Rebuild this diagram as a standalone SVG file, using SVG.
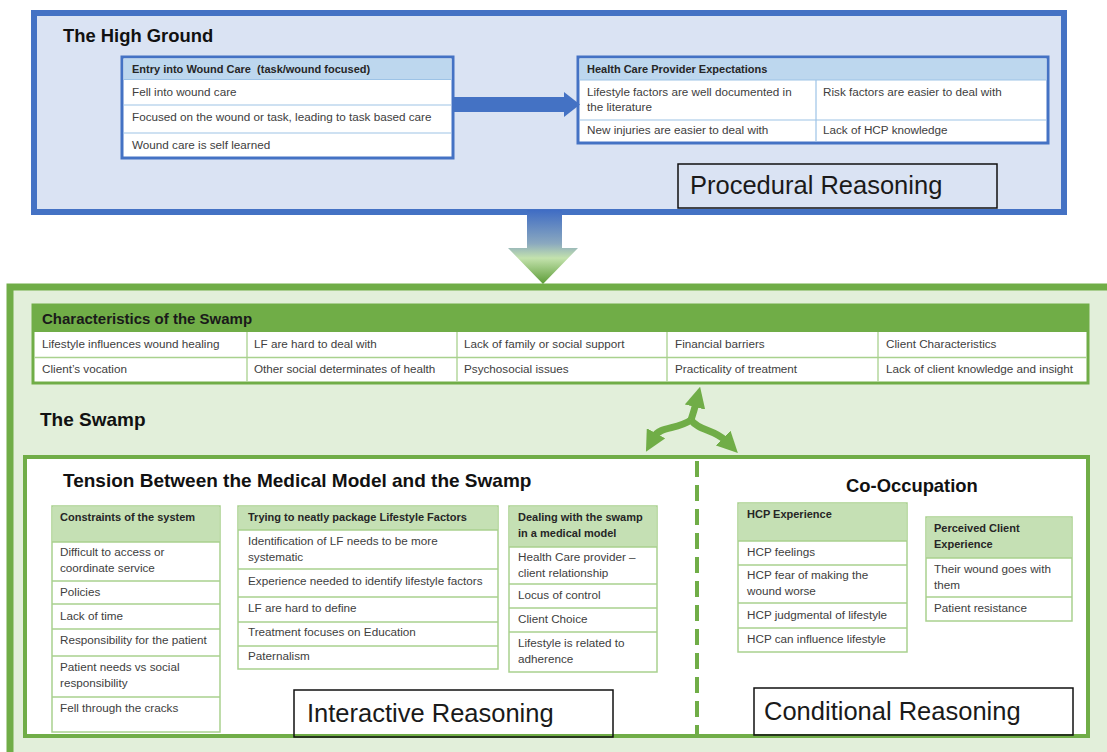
<svg xmlns="http://www.w3.org/2000/svg" width="1107" height="752" viewBox="0 0 1107 752">
<style>
text{font-family:"Liberation Sans",Arial,sans-serif}
.title{font-size:18.4px;font-weight:bold;fill:#111}
.big{font-size:25.5px;fill:#1a1a1a}
.t{font-size:11.7px;fill:#404040}
.h{font-size:11px;font-weight:bold;fill:#262626}
.bluet{stroke:#4472c4;stroke-width:3;fill:#fff}
.bluehdr{fill:#bdd7ee}
.blueln{stroke:#9dc3e6;stroke-width:1.2}
.grnt{stroke:#a9d18e;stroke-width:1.5;fill:#fff}
.grnhdr{fill:#c5e0b4}
.grnln{stroke:#a9d18e;stroke-width:1.3}
.label{fill:none;stroke:#111;stroke-width:1.5}
.conn{fill:none;stroke:#70ad47;stroke-width:7}
</style>
<defs>
<linearGradient id="downGrad" gradientUnits="userSpaceOnUse" x1="0" y1="210" x2="0" y2="284">
<stop offset="0" stop-color="#3f6cc4"/>
<stop offset="0.45" stop-color="#8aa8bf"/>
<stop offset="0.65" stop-color="#c3e2ad"/>
<stop offset="1" stop-color="#5c9c36"/>
</linearGradient>
<marker id="gh" viewBox="0 0 10 10" refX="2" refY="5" markerWidth="3" markerHeight="3" orient="auto" markerUnits="strokeWidth">
<path d="M0,0 L10,5 L0,10 z" fill="#70ad47"/>
</marker>
</defs>

<g id="high-ground">
<rect x="34" y="13" width="1030" height="199" fill="#dae3f3" stroke="#4472c4" stroke-width="6"/>
<text class="title" x="63" y="42">The High Ground</text>
</g>

<g id="entry-wound-care">
<rect class="bluet" x="122" y="57" width="331" height="101"/>
<rect class="bluehdr" x="123.5" y="58.5" width="328" height="21"/>
<line class="blueln" x1="123.5" y1="79.5" x2="451.5" y2="79.5"/>
<line class="blueln" x1="123.5" y1="105" x2="451.5" y2="105"/>
<line class="blueln" x1="123.5" y1="133" x2="451.5" y2="133"/>
<text class="h" x="132" y="73">Entry into Wound Care &#160;(task/wound focused)</text>
<text class="t" x="132" y="96">Fell into wound care</text>
<text class="t" x="132" y="121">Focused on the wound or task, leading to task based care</text>
<text class="t" x="132" y="149">Wound care is self learned</text>
</g>

<g id="hcp-expectations">
<rect class="bluet" x="578" y="57" width="470" height="86"/>
<rect class="bluehdr" x="579.5" y="58.5" width="467" height="21.5"/>
<line class="blueln" x1="579.5" y1="80" x2="1046.5" y2="80"/>
<line class="blueln" x1="579.5" y1="120" x2="1046.5" y2="120"/>
<line class="blueln" x1="816" y1="80" x2="816" y2="141.5"/>
<text class="h" x="587" y="73">Health Care Provider Expectations</text>
<text class="t" x="587" y="96">Lifestyle factors are well documented in</text>
<text class="t" x="587" y="111">the literature</text>
<text class="t" x="823" y="96">Risk factors are easier to deal with</text>
<text class="t" x="587" y="134">New injuries are easier to deal with</text>
<text class="t" x="823" y="134">Lack of HCP knowledge</text>
</g>

<g id="procedural-reasoning">
<rect class="label" x="678" y="164" width="319" height="44" fill="#dae3f3"/>
<text class="big" x="690" y="194">Procedural Reasoning</text>
</g>

<g id="swamp">
<rect x="10" y="287" width="1110" height="480" fill="#e2efda" stroke="#70ad47" stroke-width="7"/>
<text class="title" x="40" y="426" style="font-size:19px">The Swamp</text>
</g>

<g id="characteristics">
<rect x="33" y="305" width="1055" height="78" fill="#fff" stroke="#70ad47" stroke-width="3"/>
<rect x="33" y="305" width="1055" height="27" fill="#70ad47"/>
<line class="grnln" x1="34.5" y1="357.5" x2="1086.5" y2="357.5"/>
<line class="grnln" x1="247" y1="332" x2="247" y2="381.5"/>
<line class="grnln" x1="457" y1="332" x2="457" y2="381.5"/>
<line class="grnln" x1="667" y1="332" x2="667" y2="381.5"/>
<line class="grnln" x1="878" y1="332" x2="878" y2="381.5"/>
<text x="42" y="324" style="font-size:15px;font-weight:bold;fill:#1a1a1a">Characteristics of the Swamp</text>
<text class="t" x="42" y="348">Lifestyle influences wound healing</text>
<text class="t" x="254" y="348">LF are hard to deal with</text>
<text class="t" x="464" y="348">Lack of family or social support</text>
<text class="t" x="675" y="348">Financial barriers</text>
<text class="t" x="886" y="348">Client Characteristics</text>
<text class="t" x="42" y="373">Client’s vocation</text>
<text class="t" x="254" y="373">Other social determinates of health</text>
<text class="t" x="464" y="373">Psychosocial issues</text>
<text class="t" x="675" y="373">Practicality of treatment</text>
<text class="t" x="886" y="373">Lack of client knowledge and insight</text>
</g>

<g id="inner-frame">
<rect x="25" y="457" width="1063" height="279" fill="#fff" stroke="#70ad47" stroke-width="4"/>
<line x1="697" y1="461" x2="697" y2="734" stroke="#70ad47" stroke-width="4" stroke-dasharray="16 8"/>
<text class="title" x="63" y="487" style="font-size:19px">Tension Between the Medical Model and the Swamp</text>
<text class="title" x="846" y="492">Co-Occupation</text>
</g>

<g id="constraints">
<rect class="grnt" x="52" y="506" width="168" height="226"/>
<rect class="grnhdr" x="52.8" y="506.8" width="166.4" height="35.2"/>
<line class="grnln" x1="52" y1="542" x2="220" y2="542"/>
<line class="grnln" x1="52" y1="581" x2="220" y2="581"/>
<line class="grnln" x1="52" y1="604" x2="220" y2="604"/>
<line class="grnln" x1="52" y1="629" x2="220" y2="629"/>
<line class="grnln" x1="52" y1="656" x2="220" y2="656"/>
<line class="grnln" x1="52" y1="697" x2="220" y2="697"/>
<text class="h" x="60" y="521">Constraints of the system</text>
<text class="t" x="60" y="556">Difficult to access or</text>
<text class="t" x="60" y="572">coordinate service</text>
<text class="t" x="60" y="596">Policies</text>
<text class="t" x="60" y="620">Lack of time</text>
<text class="t" x="60" y="644">Responsibility for the patient</text>
<text class="t" x="60" y="671">Patient needs vs social</text>
<text class="t" x="60" y="687">responsibility</text>
<text class="t" x="60" y="712">Fell through the cracks</text>
</g>

<g id="lifestyle-factors">
<rect class="grnt" x="238" y="506" width="260" height="163"/>
<rect class="grnhdr" x="238.8" y="506.8" width="258.4" height="23.2"/>
<line class="grnln" x1="238" y1="530" x2="498" y2="530"/>
<line class="grnln" x1="238" y1="569" x2="498" y2="569"/>
<line class="grnln" x1="238" y1="597" x2="498" y2="597"/>
<line class="grnln" x1="238" y1="622" x2="498" y2="622"/>
<line class="grnln" x1="238" y1="646" x2="498" y2="646"/>
<text class="h" x="248" y="521">Trying to neatly package Lifestyle Factors</text>
<text class="t" x="248" y="545">Identification of LF needs to be more</text>
<text class="t" x="248" y="561">systematic</text>
<text class="t" x="248" y="585">Experience needed to identify lifestyle factors</text>
<text class="t" x="248" y="612">LF are hard to define</text>
<text class="t" x="248" y="636">Treatment focuses on Education</text>
<text class="t" x="248" y="660">Paternalism</text>
</g>

<g id="dealing-swamp">
<rect class="grnt" x="509" y="506" width="148" height="166"/>
<rect class="grnhdr" x="509.8" y="506.8" width="146.4" height="40.2"/>
<line class="grnln" x1="509" y1="547" x2="657" y2="547"/>
<line class="grnln" x1="509" y1="584" x2="657" y2="584"/>
<line class="grnln" x1="509" y1="608" x2="657" y2="608"/>
<line class="grnln" x1="509" y1="632" x2="657" y2="632"/>
<text class="h" x="518" y="521">Dealing with the swamp</text>
<text class="h" x="518" y="537">in a medical model</text>
<text class="t" x="518" y="561">Health Care provider –</text>
<text class="t" x="518" y="577">client relationship</text>
<text class="t" x="518" y="599">Locus of control</text>
<text class="t" x="518" y="623">Client Choice</text>
<text class="t" x="518" y="647">Lifestyle is related to</text>
<text class="t" x="518" y="663">adherence</text>
</g>

<g id="interactive-reasoning">
<rect class="label" x="294" y="690" width="319" height="47" fill="#fff"/>
<text class="big" x="307" y="722">Interactive Reasoning</text>
</g>

<g id="hcp-experience">
<rect class="grnt" x="738" y="503" width="169" height="149"/>
<rect class="grnhdr" x="738.8" y="503.8" width="167.4" height="37.2"/>
<line class="grnln" x1="738" y1="541" x2="907" y2="541"/>
<line class="grnln" x1="738" y1="565" x2="907" y2="565"/>
<line class="grnln" x1="738" y1="603" x2="907" y2="603"/>
<line class="grnln" x1="738" y1="628" x2="907" y2="628"/>
<text class="h" x="747" y="518">HCP Experience</text>
<text class="t" x="747" y="556">HCP feelings</text>
<text class="t" x="747" y="579">HCP fear of making the</text>
<text class="t" x="747" y="595">wound worse</text>
<text class="t" x="747" y="619">HCP judgmental of lifestyle</text>
<text class="t" x="747" y="643">HCP can influence lifestyle</text>
</g>

<g id="perceived-client">
<rect class="grnt" x="926" y="517" width="146" height="104"/>
<rect class="grnhdr" x="926.8" y="517.8" width="144.4" height="40.2"/>
<line class="grnln" x1="926" y1="558" x2="1072" y2="558"/>
<line class="grnln" x1="926" y1="597" x2="1072" y2="597"/>
<text class="h" x="934" y="532">Perceived Client</text>
<text class="h" x="934" y="548">Experience</text>
<text class="t" x="934" y="573">Their wound goes with</text>
<text class="t" x="934" y="589">them</text>
<text class="t" x="934" y="612">Patient resistance</text>
</g>

<g id="conditional-reasoning">
<rect class="label" x="754" y="688" width="319" height="47" fill="#fff"/>
<text class="big" x="764" y="720">Conditional Reasoning</text>
</g>

<g id="connectors">
<path d="M453,104.5 H565" stroke="#4472c4" stroke-width="15" fill="none"/>
<polygon points="564,92 580,104.5 564,117" fill="#4472c4"/>
<polygon points="527,210 562,210 562,248 578,248 543,284 508,248 527,248" fill="url(#downGrad)"/>
<path class="conn" d="M691,420 Q694,411 696,403" marker-end="url(#gh)"/>
<path class="conn" d="M691,420 C677,430 660,426 654,437" marker-end="url(#gh)"/>
<path class="conn" d="M691,420 C699,431 714,429 726,441" marker-end="url(#gh)"/>
</g>
</svg>
